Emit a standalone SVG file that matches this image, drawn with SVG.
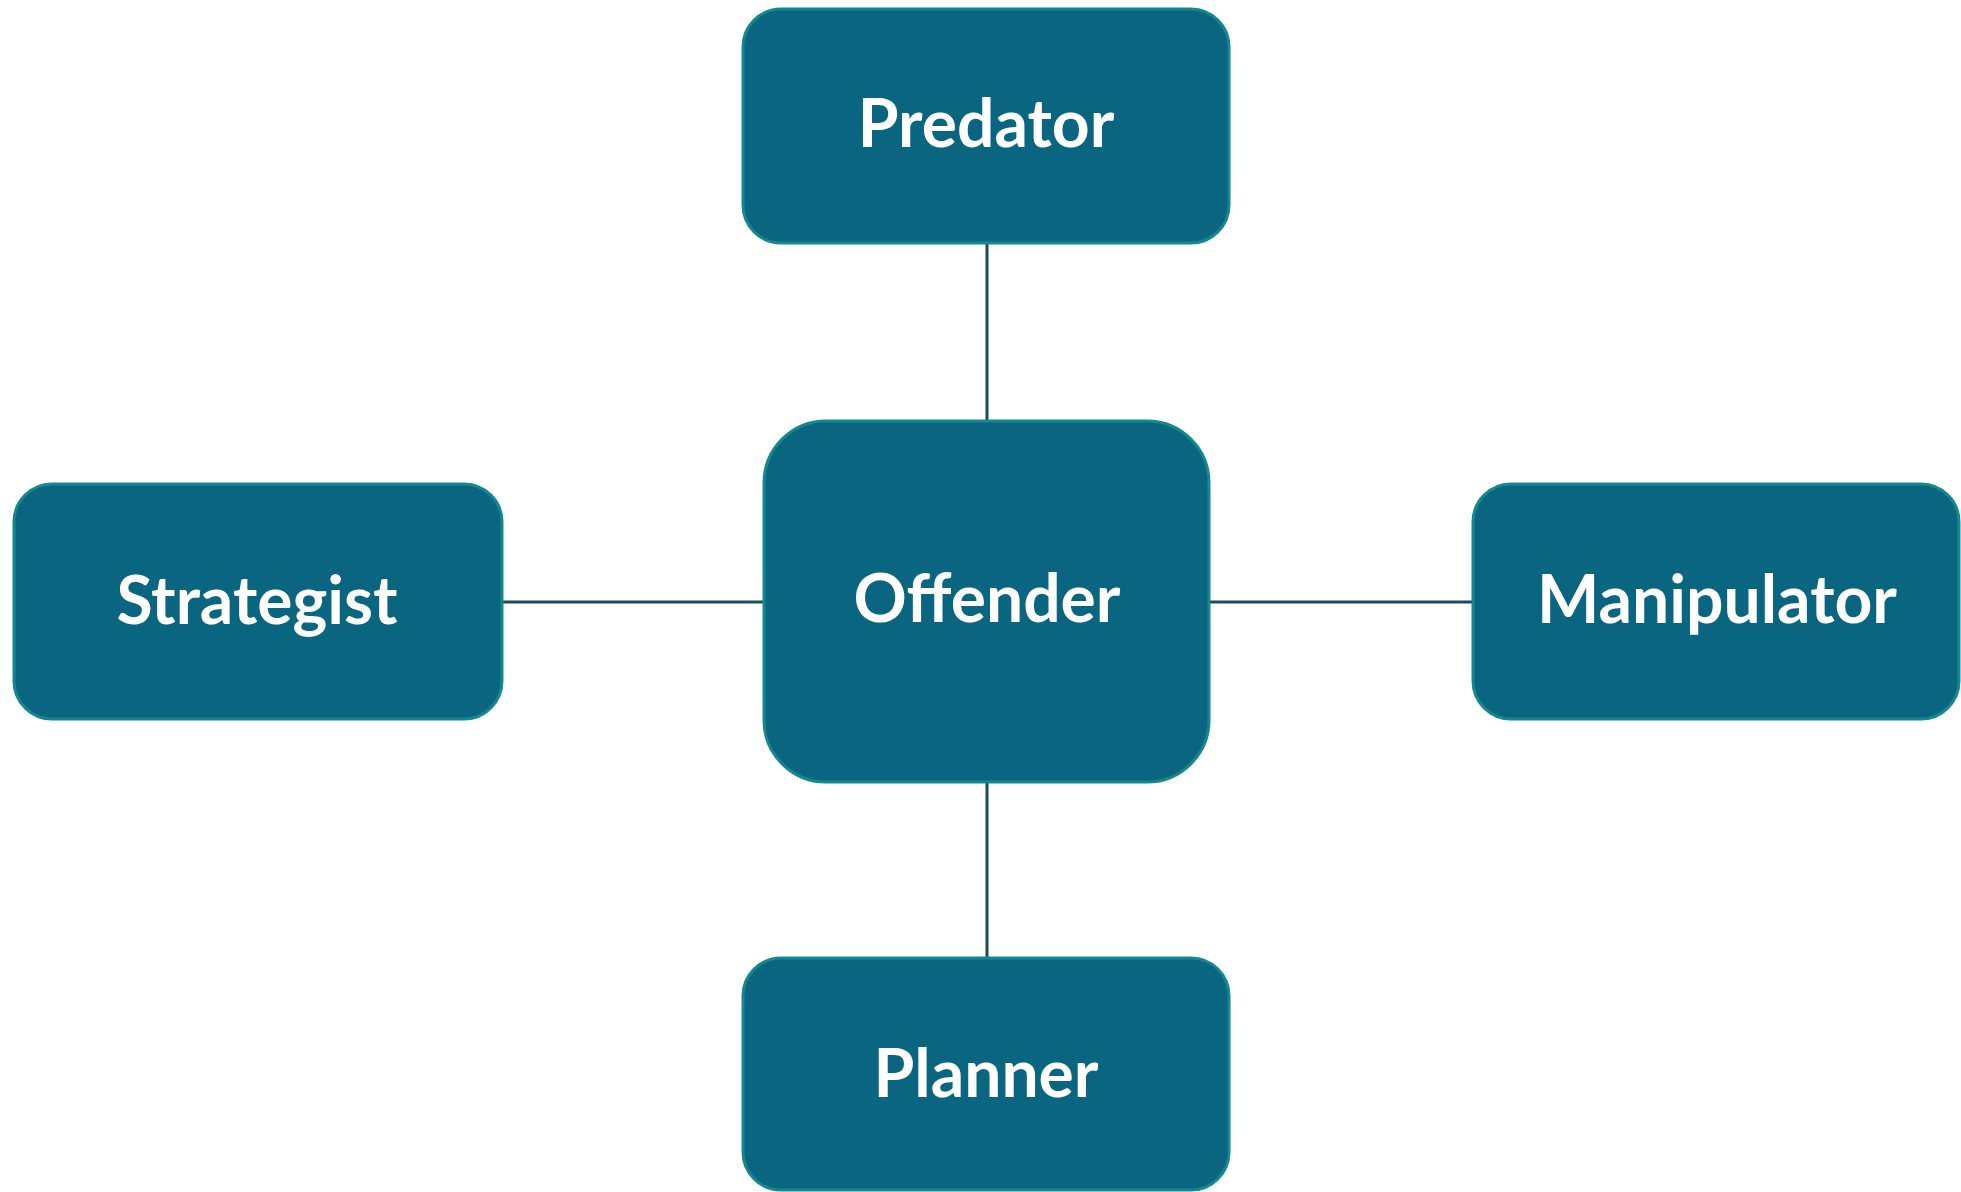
<svg xmlns="http://www.w3.org/2000/svg" width="1961" height="1192" viewBox="0 0 1961 1192">
<style>
.box{fill:#0a6580;stroke:#14888f;stroke-width:3}
.lbl{fill:#ffffff;font-family:Lato,"Open Sans","Liberation Sans",sans-serif;font-weight:bold;font-size:66px;text-anchor:middle}
.conn{stroke:#1d4b5a;stroke-width:3;fill:none}
</style>
<rect width="1961" height="1192" fill="#ffffff"/>
<g id="connectors">
<line class="conn" x1="987" y1="243" x2="987" y2="421"/>
<line class="conn" x1="987" y1="782" x2="987" y2="958"/>
<line class="conn" x1="502" y1="602" x2="764" y2="602"/>
<line class="conn" x1="1209" y1="602" x2="1473" y2="602"/>
</g>
<g id="predator">
<rect class="box" x="743" y="9" width="486" height="234" rx="38"/>
<text class="lbl" x="986" y="147">Predator</text>
</g>
<g id="offender">
<rect class="box" x="764" y="421" width="445" height="361" rx="62"/>
<text class="lbl" x="987" y="622">Offender</text>
</g>
<g id="strategist">
<rect class="box" x="14" y="484" width="488" height="235" rx="38"/>
<text class="lbl" x="257" y="624">Strategist</text>
</g>
<g id="manipulator">
<rect class="box" x="1473" y="484" width="486" height="235" rx="38"/>
<text class="lbl" x="1717" y="623">Manipulator</text>
</g>
<g id="planner">
<rect class="box" x="743" y="958" width="486" height="232" rx="38"/>
<text class="lbl" x="986" y="1097">Planner</text>
</g>
</svg>
